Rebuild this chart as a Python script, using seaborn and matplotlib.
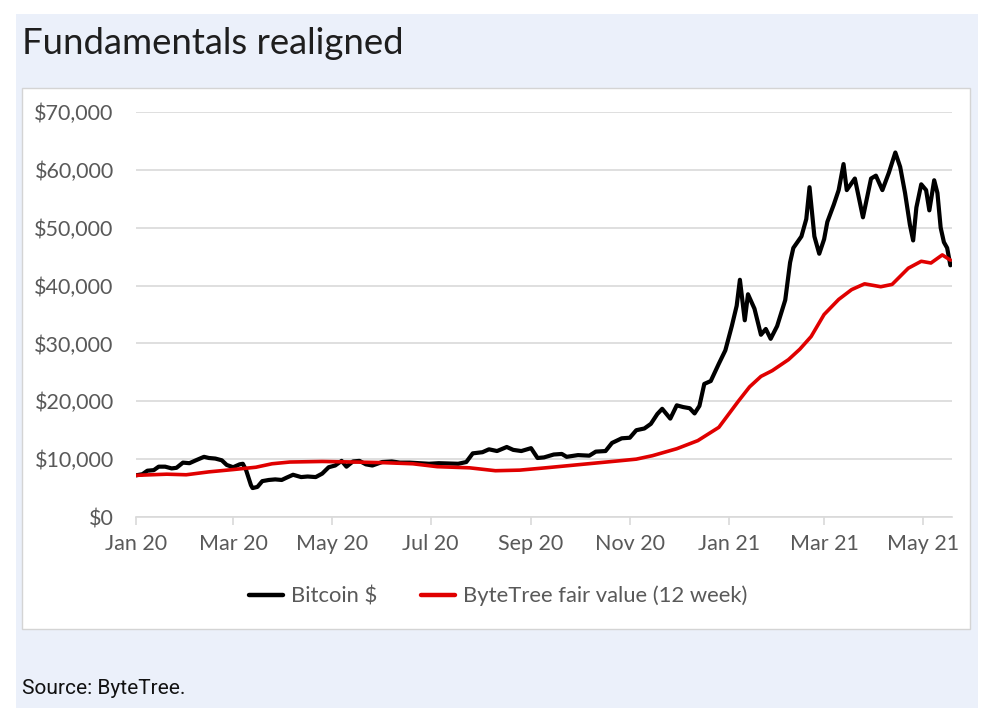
import matplotlib
matplotlib.use("Agg")
import matplotlib.pyplot as plt
from matplotlib.patches import Rectangle
from matplotlib.ticker import FuncFormatter
import seaborn as sns
import pandas as pd

btc_dates = ["2020-01-01","2020-01-05","2020-01-08","2020-01-12","2020-01-15","2020-01-19","2020-01-23","2020-01-26",
             "2020-01-30","2020-02-03","2020-02-07","2020-02-12","2020-02-15","2020-02-19","2020-02-23","2020-02-26",
             "2020-03-01","2020-03-05","2020-03-07","2020-03-09","2020-03-12","2020-03-13","2020-03-16","2020-03-19",
             "2020-03-23","2020-03-27","2020-03-31","2020-04-03","2020-04-07","2020-04-12","2020-04-16","2020-04-21",
             "2020-04-25","2020-04-29","2020-05-03","2020-05-07","2020-05-10","2020-05-14","2020-05-18","2020-05-22",
             "2020-05-26","2020-06-01","2020-06-07","2020-06-12","2020-06-18","2020-06-24","2020-06-30","2020-07-06",
             "2020-07-12","2020-07-18","2020-07-23","2020-07-27","2020-08-02","2020-08-06","2020-08-11","2020-08-17",
             "2020-08-21","2020-08-26","2020-09-01","2020-09-05","2020-09-09","2020-09-15","2020-09-20","2020-09-23",
             "2020-09-30","2020-10-07","2020-10-11","2020-10-17","2020-10-21","2020-10-27","2020-11-01","2020-11-05",
             "2020-11-10","2020-11-14","2020-11-18","2020-11-21","2020-11-26","2020-11-30","2020-12-04","2020-12-08",
             "2020-12-11","2020-12-14","2020-12-17","2020-12-21","2020-12-26","2020-12-30","2021-01-03","2021-01-06",
             "2021-01-08","2021-01-11","2021-01-13","2021-01-17","2021-01-21","2021-01-24","2021-01-27","2021-01-31",
             "2021-02-05","2021-02-08","2021-02-10","2021-02-15","2021-02-18","2021-02-20","2021-02-23","2021-02-26",
             "2021-03-01","2021-03-03","2021-03-07","2021-03-10","2021-03-13","2021-03-15","2021-03-20","2021-03-25",
             "2021-03-30","2021-04-02","2021-04-06","2021-04-10","2021-04-14","2021-04-17","2021-04-20","2021-04-23",
             "2021-04-25","2021-04-27","2021-04-30","2021-05-03","2021-05-05","2021-05-08","2021-05-10","2021-05-12",
             "2021-05-14","2021-05-16","2021-05-18"]
btc_values = [7200,7400,8000,8100,8700,8700,8400,8500,
              9400,9300,9800,10400,10200,10100,9800,9000,
              8600,9100,9200,8100,5500,5000,5200,6200,
              6400,6500,6400,6800,7300,6900,7000,6900,
              7500,8600,8900,9700,8700,9600,9700,9100,
              8900,9500,9600,9400,9400,9300,9200,9300,
              9250,9200,9500,11000,11200,11700,11400,12100,
              11600,11400,11900,10200,10300,10800,10900,10400,
              10700,10600,11300,11400,12800,13600,13700,15000,
              15300,16100,17800,18700,17000,19300,19000,18800,
              17900,19200,23000,23500,26500,28800,33000,36500,
              41000,34000,38500,36000,31500,32500,30800,33000,
              37500,44000,46500,48500,51500,57000,48500,45500,
              48000,51000,54000,56500,61000,56500,58500,51800,
              58500,59000,56500,59500,63000,60500,56000,50500,
              47800,53500,57500,56500,53000,58200,56000,50000,
              47500,46500,43500]

fv_dates = ["2020-01-01","2020-01-20","2020-02-01","2020-02-15","2020-03-01","2020-03-15","2020-03-25","2020-04-05",
            "2020-04-25","2020-05-15","2020-06-01","2020-06-20","2020-07-05","2020-07-25","2020-08-10","2020-08-25",
            "2020-09-10","2020-09-25","2020-10-10","2020-10-25","2020-11-05","2020-11-15","2020-11-30","2020-12-13",
            "2020-12-26","2021-01-07","2021-01-14","2021-01-21","2021-01-28","2021-02-07","2021-02-14","2021-02-21",
            "2021-03-01","2021-03-10","2021-03-18","2021-03-26","2021-04-05","2021-04-12","2021-04-22","2021-04-30",
            "2021-05-06","2021-05-13","2021-05-18"]
fv_values = [7200,7400,7300,7800,8200,8600,9200,9500,
             9600,9500,9400,9200,8700,8500,8000,8100,
             8500,8900,9300,9700,10000,10600,11800,13200,
             15500,20000,22500,24300,25300,27200,29000,31200,
             35000,37600,39300,40300,39800,40200,43000,44200,
             43900,45300,44400]

series_names = ["Bitcoin $", "ByteTree fair value (12 week)"]
series_colors = ["#000000", "#e00000"]
y_ticks = [0, 10000, 20000, 30000, 40000, 50000, 60000, 70000]
x_tick_dates = ["2020-01-01","2020-03-01","2020-05-01","2020-07-01","2020-09-01","2020-11-01",
                "2021-01-01","2021-03-01","2021-05-01"]
x_tick_labels = ["Jan 20","Mar 20","May 20","Jul 20","Sep 20","Nov 20","Jan 21","Mar 21","May 21"]

df = pd.concat([
    pd.DataFrame({"date": pd.to_datetime(btc_dates), "value": btc_values, "series": series_names[0]}),
    pd.DataFrame({"date": pd.to_datetime(fv_dates), "value": fv_values, "series": series_names[1]}),
])

sns.set_theme(style="white")
plt.rcParams["font.family"] = ["Lato", "DejaVu Sans"]

W, H = 985, 728
fig = plt.figure(figsize=(W / 100, H / 100), dpi=100)
fig.patch.set_facecolor("white")

fig.patches.append(Rectangle((16 / W, 1 - 708 / H), (978 - 16) / W, (708 - 14) / H,
                             transform=fig.transFigure, facecolor="#ebf0fa", edgecolor="none", zorder=0))
fig.patches.append(Rectangle((22 / W, 1 - 629 / H), (970 - 22) / W, (629 - 88) / H,
                             transform=fig.transFigure, facecolor="white", edgecolor="#d4d4d4",
                             linewidth=1.0, zorder=1))

ax = fig.add_axes([136 / W, 1 - 517 / H, (952 - 136) / W, (517 - 112) / H])
ax.set_facecolor("none")
ax.set_zorder(2)

sns.lineplot(data=df, x="date", y="value", hue="series", hue_order=series_names,
             palette=dict(zip(series_names, series_colors)), ax=ax, legend=False,
             linewidth=3.0, estimator=None)
ax.lines[1].set_linewidth(2.6)
for ln in ax.lines:
    ln.set_solid_joinstyle("round")

ax.set_ylim(0, 70000)
ax.set_xlim(pd.Timestamp("2020-01-01"), pd.Timestamp("2021-05-19"))
ax.set_yticks(y_ticks)
ax.yaxis.set_major_formatter(FuncFormatter(lambda v, p: f"${v:,.0f}"))
ax.set_xticks(pd.to_datetime(x_tick_dates))
ax.set_xticklabels(x_tick_labels)
ax.set_xlabel("")
ax.set_ylabel("")
ax.grid(axis="y", color="#d9d9d9", linewidth=1.2)
ax.set_axisbelow(True)
for s in ["left", "right", "top"]:
    ax.spines[s].set_visible(False)
ax.spines["bottom"].set_color("#d9d9d9")
ax.spines["bottom"].set_linewidth(1.2)
ax.tick_params(axis="x", which="major", bottom=True, length=6, width=1.2, color="#d9d9d9",
               labelsize=15.5, labelcolor="#595959", pad=6)
ax.tick_params(axis="y", left=False, length=0, labelsize=15.5, labelcolor="#595959", pad=16)

handles = [plt.Line2D([], [], color=c, linewidth=3.2, solid_capstyle="round") for c in series_colors]
fig.legend(handles, series_names, loc="center", bbox_to_anchor=(498 / W, 1 - 596 / H), ncol=2,
           frameon=False, handlelength=1.55, handletextpad=0.35, columnspacing=2.0,
           labelcolor="#595959",
           prop={"family": ["Lato", "DejaVu Sans"], "size": 15.8})

fig.text(22 / W, 1 - 44 / H, "Fundamentals realigned", ha="left", va="center",
         fontsize=26.3, color="#1e1e1e", family=["Lato", "DejaVu Sans"])
fig.text(22 / W, 1 - 689 / H, "Source: ByteTree.", ha="left", va="center",
         fontsize=15, color="#111111", family=["Roboto", "DejaVu Sans"])

fig.savefig("out.png", dpi=100, facecolor="white")
